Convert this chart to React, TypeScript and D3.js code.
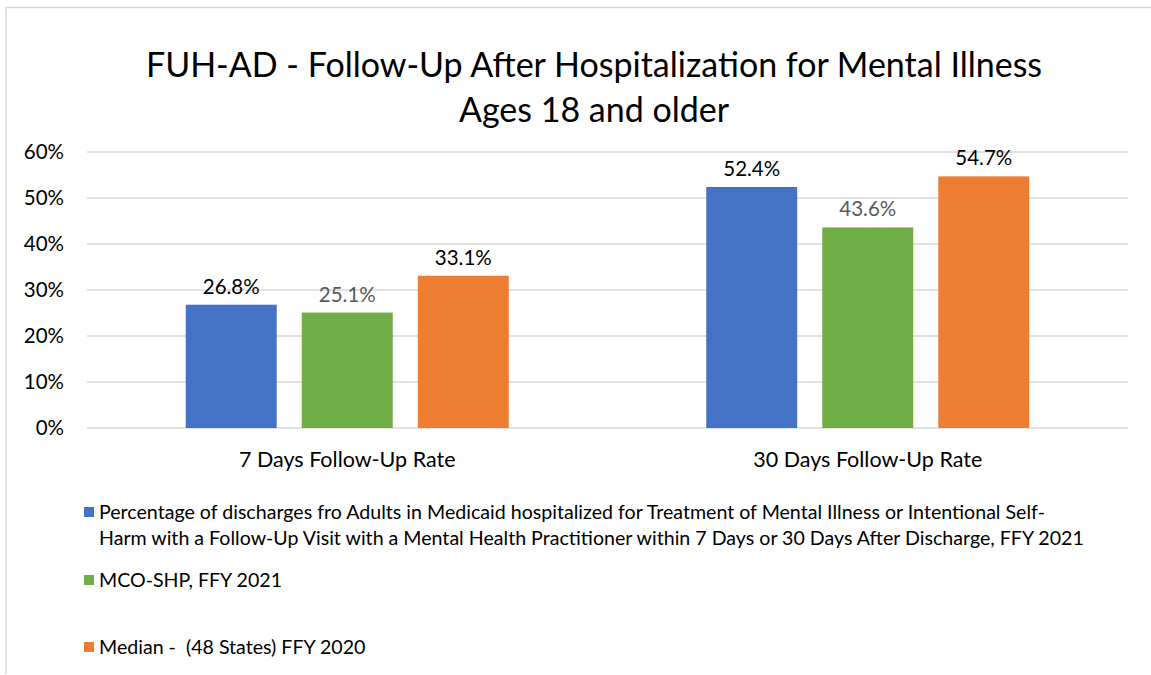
import React from "react";
import * as d3 from "d3";

const categories = ["7 Days Follow-Up Rate", "30 Days Follow-Up Rate"];
const seriesNames = [
  "Percentage of discharges fro Adults in Medicaid hospitalized for Treatment of Mental Illness or Intentional Self-Harm with a Follow-Up Visit with a Mental Health Practitioner within 7 Days or 30 Days After Discharge, FFY 2021",
  "MCO-SHP, FFY 2021",
  "Median -  (48 States) FFY 2020",
];
const legendLines = [
  [
    "Percentage of discharges fro Adults in Medicaid hospitalized for Treatment of Mental Illness or Intentional Self-",
    "Harm with a Follow-Up Visit with a Mental Health Practitioner within 7 Days or 30 Days After Discharge, FFY 2021",
  ],
  ["MCO-SHP, FFY 2021"],
  ["Median -  (48 States) FFY 2020"],
];
const nationalValues = [26.8, 52.4];
const mcoValues = [25.1, 43.6];
const medianValues = [33.1, 54.7];
const yTicks = [0, 10, 20, 30, 40, 50, 60];
const titleLines = ["FUH-AD - Follow-Up After Hospitalization for Mental Illness", "Ages 18 and older"];

const colors = ["#4472C4", "#70AD47", "#ED7D31"];
const labelColors = ["#000000", "#595959", "#000000"];
const FONT = "Lato, 'Open Sans', sans-serif";

export default function App() {
  const W = 1151, H = 675;
  const left = 87, right = 1128, top = 152, bottom = 428;
  const y = d3.scaleLinear().domain([0, 60]).range([bottom, top]);
  const x0 = d3.scaleBand<string>().domain(categories).range([left, right]).padding(0);
  const groupW = 323;
  const x1 = d3.scaleBand<number>().domain([0, 1, 2]).range([0, groupW]).paddingInner(0.216);
  const series = [nationalValues, mcoValues, medianValues];
  const legendY = [[512, 538], [580], [647]];

  return (
    <svg width={W} height={H} style={{ position: "absolute", left: 0, top: 0, background: "#fff" }} fontFamily={FONT}>
      <rect x={0} y={0} width={W} height={H} fill="#fff" />
      <line x1={6} y1={7.5} x2={W} y2={7.5} stroke="#D9D9D9" strokeWidth={1.5} />
      <line x1={6} y1={7} x2={6} y2={674} stroke="#D9D9D9" strokeWidth={1.5} />
      {titleLines.map((t, i) => (
        <text key={i} x={594} y={77 + i * 45} textAnchor="middle" fontSize={34} fill="#000">{t}</text>
      ))}
      {yTicks.map((t) => (
        <g key={t}>
          <line x1={left} x2={right} y1={y(t)} y2={y(t)} stroke="#D9D9D9" strokeWidth={1.5} />
          <text x={64} y={y(t) + 7} textAnchor="end" fontSize={20.5} fill="#000">{t}%</text>
        </g>
      ))}
      {categories.map((c, ci) => {
        const gx = (x0(c) as number) + (x0.bandwidth() - groupW) / 2;
        return (
          <g key={c}>
            {series.map((vals, si) => {
              const bx = gx + (x1(si) as number);
              return (
                <g key={si}>
                  <rect x={bx} y={y(vals[ci])} width={x1.bandwidth()} height={bottom - y(vals[ci])} fill={colors[si]} />
                  <text x={bx + x1.bandwidth() / 2} y={y(vals[ci]) - 11} textAnchor="middle" fontSize={20.5} fill={labelColors[si]}>
                    {vals[ci].toFixed(1)}%
                  </text>
                </g>
              );
            })}
            <text x={(x0(c) as number) + x0.bandwidth() / 2} y={467} textAnchor="middle" fontSize={21.5} fill="#000">{c}</text>
          </g>
        );
      })}
      {legendLines.map((lines, i) => (
        <g key={i}>
          <rect x={84} y={legendY[i][0] - 5} width={10} height={10} fill={colors[i]} />
          {lines.map((l, j) => (
            <text key={j} x={99} y={legendY[i][j] + 6.5} fontSize={19.6} fill="#000" xmlSpace="preserve">{l}</text>
          ))}
        </g>
      ))}
    </svg>
  );
}
